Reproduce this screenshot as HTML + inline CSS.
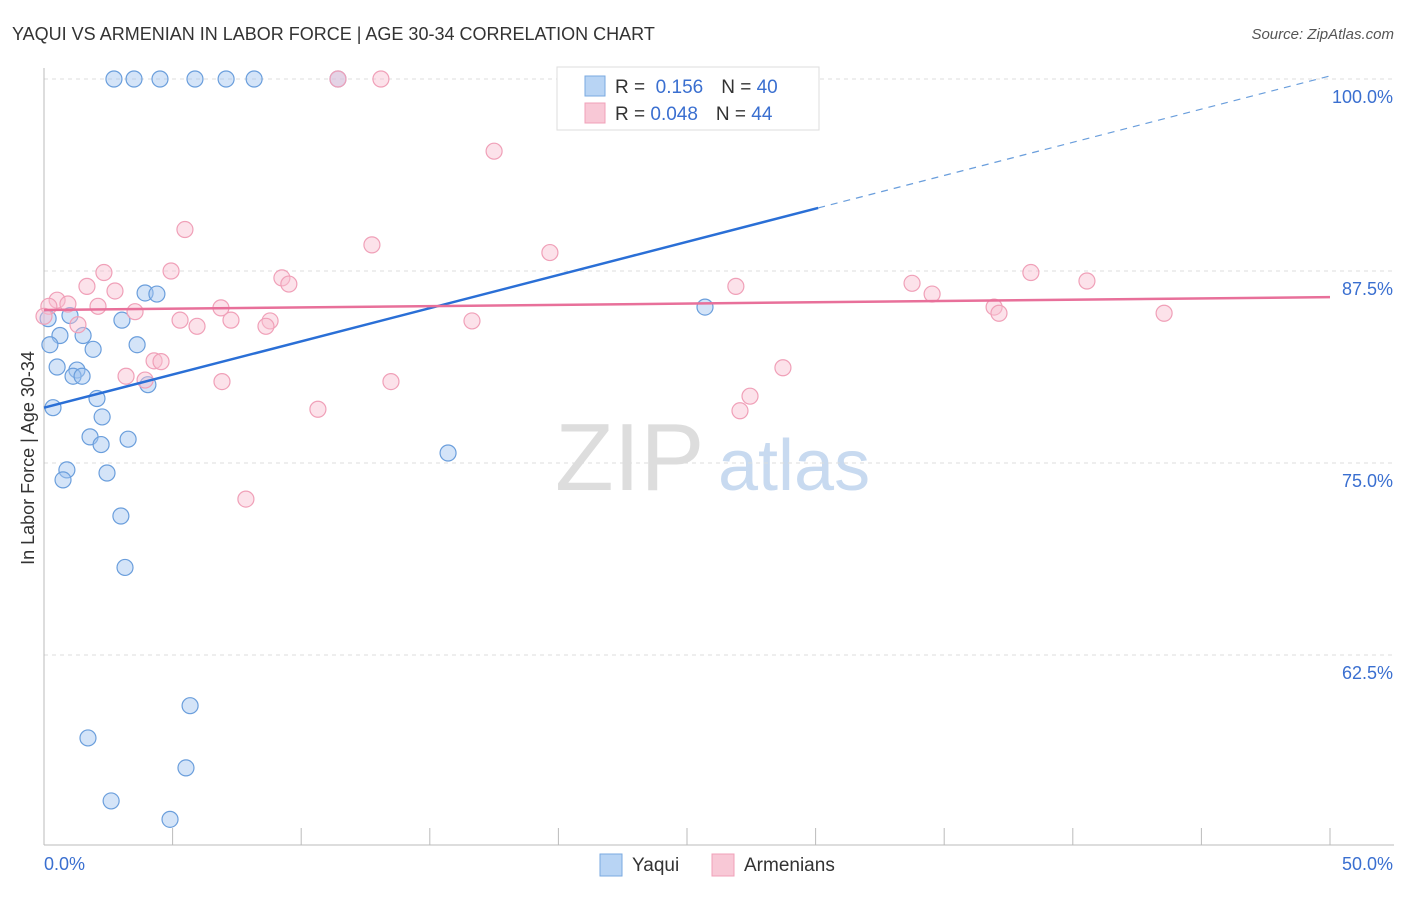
<!DOCTYPE html>
<html><head><meta charset="utf-8"><style>
body{margin:0;background:#fff;font-family:"Liberation Sans",sans-serif}
svg text{font-family:"Liberation Sans",sans-serif}
</style></head><body>
<svg id="c" width="1406" height="892">
<text x="12" y="40" font-size="18" fill="#333">YAQUI VS ARMENIAN IN LABOR FORCE | AGE 30-34 CORRELATION CHART</text>
<text x="1394" y="39" font-size="15" fill="#555" text-anchor="end" font-style="italic">Source: ZipAtlas.com</text>
<text x="34" y="458" font-size="18" fill="#333" text-anchor="middle" transform="rotate(-90 34 458)">In Labor Force | Age 30-34</text>
<g><text x="555" y="490" font-size="96" fill="#ddd" font-family="Liberation Serif">ZIP</text><text x="718" y="490" font-size="72" fill="#c8daf0">atlas</text></g>
<g id="grid"></g><g id="pts"></g><g id="lines"></g>
<g>
<rect x="557" y="67" width="262" height="63" fill="#fff" stroke="#ddd"/>
<rect x="585" y="76" width="20" height="20" fill="#b8d4f4" stroke="#7aaae0"/>
<rect x="585" y="103" width="20" height="20" fill="#f8c8d6" stroke="#f0a0b8"/>
<text x="615" y="93" font-size="19" fill="#333">R = <tspan fill="#3a6fd0">&#160;0.156</tspan><tspan dx="18">N = </tspan><tspan fill="#3a6fd0">40</tspan></text>
<text x="615" y="120" font-size="19" fill="#333">R = <tspan fill="#3a6fd0">0.048</tspan><tspan dx="18">N = </tspan><tspan fill="#3a6fd0">44</tspan></text>
</g>
<g>
<rect x="600" y="854" width="22" height="22" fill="#b8d4f4" stroke="#7aaae0"/>
<text x="632" y="871" font-size="19" fill="#333">Yaqui</text>
<rect x="712" y="854" width="22" height="22" fill="#f8c8d6" stroke="#f0a0b8"/>
<text x="744" y="871" font-size="19" fill="#333">Armenians</text>
</g>
</svg>
<script>
const yaquiX=[2.72,3.50,4.51,5.87,7.08,8.17,11.43,3.93,4.39,3.03,1.01,0.16,0.62,1.52,1.91,0.23,3.62,0.51,1.28,1.13,1.48,4.04,0.35,2.06,2.26,1.79,3.27,2.22,0.89,0.74,2.45,2.99,3.15,5.68,1.71,5.52,2.61,4.90,15.71,25.70];
const yaquiY=[100,100,100,100,100,100,100,86.07,86.0,84.3,84.6,84.4,83.3,83.3,82.4,82.7,82.7,81.25,81.05,80.65,80.65,80.1,78.6,79.2,78.0,76.7,76.55,76.2,74.55,73.9,74.35,71.55,68.2,59.2,57.1,55.15,53.0,51.8,75.65,85.15];
const armX=[11.43,13.10,17.50,5.48,12.75,19.67,2.33,4.94,9.25,9.52,1.67,2.76,0.51,0.93,2.10,0.19,6.88,3.54,5.29,5.95,7.27,8.79,8.63,1.32,4.28,4.55,3.19,3.93,6.92,13.49,10.65,7.85,16.64,26.9,28.73,27.45,27.06,33.75,34.53,38.37,40.55,36.94,37.13,43.55,0];
const armY=[100,100,95.3,90.2,89.2,88.7,87.4,87.5,87.05,86.65,86.5,86.2,85.6,85.35,85.2,85.2,85.1,84.85,84.3,83.9,84.3,84.25,83.9,84.0,81.65,81.6,80.65,80.4,80.3,80.3,78.5,72.65,84.25,86.5,81.2,79.35,78.4,86.7,86.0,87.4,86.85,85.15,84.75,84.75,84.55];
const yTicks=[100,87.5,75,62.5];
const yTickLabels=["100.0%","87.5%","75.0%","62.5%"];
const yaquiTrend=[78.6,100.2];const armTrend=[84.96,85.8];
const X=v=>44+v/50*1286, Y=v=>79+(100-v)/12.5*192;
const NS="http://www.w3.org/2000/svg";
function mk(t,a,p){const e=document.createElementNS(NS,t);for(const k in a)e.setAttribute(k,a[k]);p.appendChild(e);return e;}
const g=document.getElementById('grid');
yTicks.forEach((t,i)=>{const l=mk('line',{x1:44,x2:1394,y1:Y(t),y2:Y(t),stroke:'#ddd','stroke-dasharray':'4,4'},g);


const tx=mk('text',{x:1393,y:Y(t)+24,'font-size':18,fill:'#3a6fd0','text-anchor':'end'},g);tx.textContent=yTickLabels[i];

});
mk('line',{x1:44,x2:44,y1:68,y2:845,stroke:'#bbb'},g);
mk('line',{x1:44,x2:1394,y1:845,y2:845,stroke:'#bbb'},g);
for(let i=0;i<=10;i++){const t=mk('line',{x1:X(i*5),x2:X(i*5),y1:828,y2:845,stroke:'#bbb'},g);

}
const a=mk('text',{x:44,y:870,'font-size':18,fill:'#3a6fd0'},g);a.textContent='0.0%';


const b=mk('text',{x:1393,y:870,'font-size':18,fill:'#3a6fd0','text-anchor':'end'},g);b.textContent='50.0%';


const p=document.getElementById('pts');
yaquiX.forEach((x,i)=>{const c=mk('circle',{cx:X(x),cy:Y(yaquiY[i]),r:8,fill:'rgba(160,196,240,0.45)',stroke:'#6a9edc','stroke-width':1.2},p);

});
armX.forEach((x,i)=>{const c=mk('circle',{cx:X(x),cy:Y(armY[i]),r:8,fill:'rgba(248,190,208,0.45)',stroke:'#f0a0b8','stroke-width':1.2},p);

});
const L=document.getElementById('lines');
const yv=x=>yaquiTrend[0]+(yaquiTrend[1]-yaquiTrend[0])*x/50;
const l1=mk('line',{x1:X(0),y1:Y(yv(0)),x2:X(30.1),y2:Y(yv(30.1)),stroke:'#2a6fd6','stroke-width':2.5},L);


const l2=mk('line',{x1:X(30.1),y1:Y(yv(30.1)),x2:X(50),y2:Y(yv(50)),stroke:'#6a9edc','stroke-width':1.2,'stroke-dasharray':'7,6'},L);


const l3=mk('line',{x1:X(0),y1:Y(armTrend[0]),x2:X(50),y2:Y(armTrend[1]),stroke:'#e8709a','stroke-width':2.5},L);


</script></body></html>
